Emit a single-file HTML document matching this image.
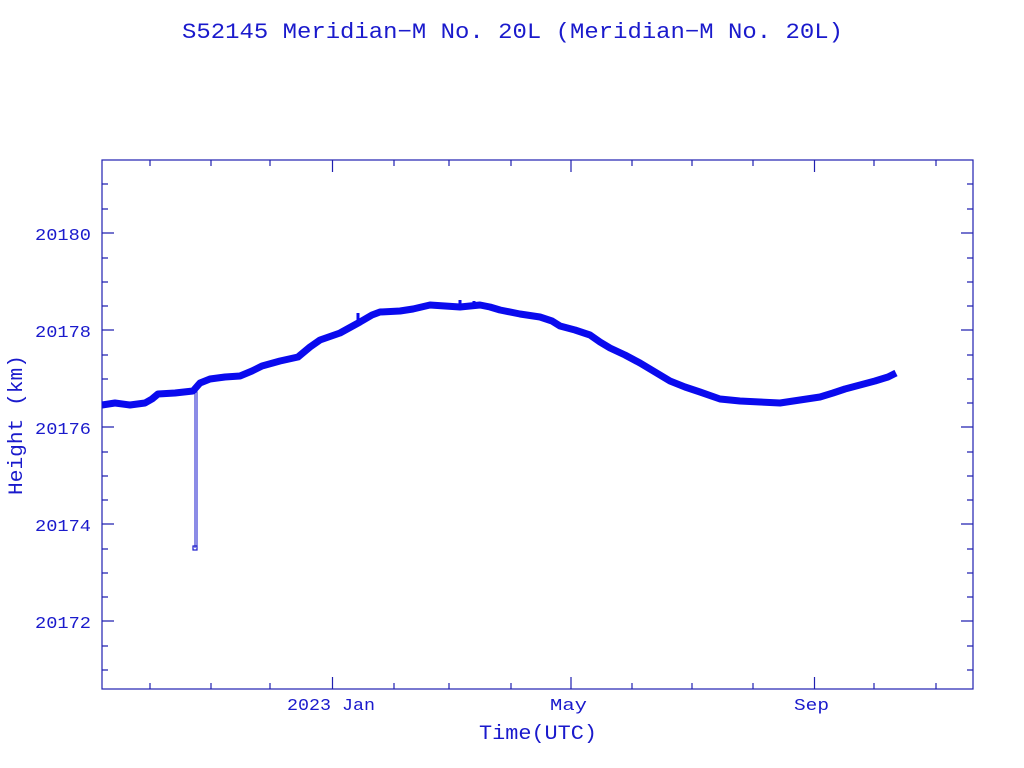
<!DOCTYPE html>
<html><head><meta charset="utf-8"><style>
body{margin:0;background:#fff;}
svg{display:block;}
text{font-family:"Liberation Mono","DejaVu Sans Mono",monospace;fill:#1a1acc;}
</style></head><body>
<svg width="1024" height="768" viewBox="0 0 1024 768" xmlns="http://www.w3.org/2000/svg">
<text x="182" y="38" font-size="22" textLength="661" lengthAdjust="spacingAndGlyphs">S52145 Meridian−M No. 20L  (Meridian−M No. 20L)</text>
<rect x="102" y="160" width="871" height="529" fill="none" stroke="#2020b0" stroke-width="1.2"/>
<g stroke="#2020b0" stroke-width="1.2">
<path d="M102 233h12M102 330h12M102 427h12M102 524h12M102 621h12M973 233h-12M973 330h-12M973 427h-12M973 524h-12M973 621h-12"/>
<path d="M102 184h6M102 209h6M102 258h6M102 282h6M102 306h6M102 355h6M102 379h6M102 403h6M102 452h6M102 476h6M102 500h6M102 549h6M102 573h6M102 597h6M102 646h6M102 670h6
M973 184h-6M973 209h-6M973 258h-6M973 282h-6M973 306h-6M973 355h-6M973 379h-6M973 403h-6M973 452h-6M973 476h-6M973 500h-6M973 549h-6M973 573h-6M973 597h-6M973 646h-6M973 670h-6"/>
<path d="M332.5 689v-12M571 689v-12M814.5 689v-12M332.5 160v12M571 160v12M814.5 160v12"/>
<path d="M150 689v-6M211 689v-6M270 689v-6M394 689v-6M449 689v-6M511 689v-6M632 689v-6M692 689v-6M753 689v-6M874 689v-6M936 689v-6
M150 160v6M211 160v6M270 160v6M394 160v6M449 160v6M511 160v6M632 160v6M692 160v6M753 160v6M874 160v6M936 160v6"/>
</g>
<g font-size="17">
<text x="35" y="240" textLength="56" lengthAdjust="spacingAndGlyphs">20180</text>
<text x="35" y="337" textLength="56" lengthAdjust="spacingAndGlyphs">20178</text>
<text x="35" y="434" textLength="56" lengthAdjust="spacingAndGlyphs">20176</text>
<text x="35" y="531" textLength="56" lengthAdjust="spacingAndGlyphs">20174</text>
<text x="35" y="628" textLength="56" lengthAdjust="spacingAndGlyphs">20172</text>
<text x="287" y="710" textLength="88" lengthAdjust="spacingAndGlyphs">2023 Jan</text>
<text x="550" y="710" textLength="37" lengthAdjust="spacingAndGlyphs">May</text>
<text x="794" y="710" textLength="35" lengthAdjust="spacingAndGlyphs">Sep</text>
<text x="479" y="739" font-size="20" textLength="118" lengthAdjust="spacingAndGlyphs">Time(UTC)</text>
<text transform="translate(22,495) rotate(-90)" font-size="20" textLength="140" lengthAdjust="spacingAndGlyphs">Height (km)</text>
</g>
<g stroke="#1a1acc" fill="none">
<path d="M195 391V548M197 391V548" stroke-width="1"/>
<rect x="193" y="546" width="4" height="4" stroke-width="1.2"/>
</g>
<polyline fill="none" stroke="#0a0aee" stroke-width="7" stroke-linejoin="round" points="102,405 115,403 130,405 145,403 152,399 158,394 175,393 193,391 200,383 210,379 225,377 240,376 252,371 262,366 280,361 298,357 304,352 310,347 320,340 340,333 360,322 372,315 380,312 400,311 413,309 430,305 445,306 460,307 470,306 480,305 490,307 500,310 520,314 540,317 552,321 560,326 575,330 590,335 600,342 610,348 625,355 640,363 655,372 670,381 685,387 700,392 720,399 740,401 760,402 780,403 800,400 820,397 833,393 845,389 860,385 875,381 888,377 896,373"/>
<g stroke="#0a0aee" stroke-width="3" fill="none">
<path d="M460 309v-9M474 308v-7M358 321v-8"/>
</g>
</svg>
</body></html>
